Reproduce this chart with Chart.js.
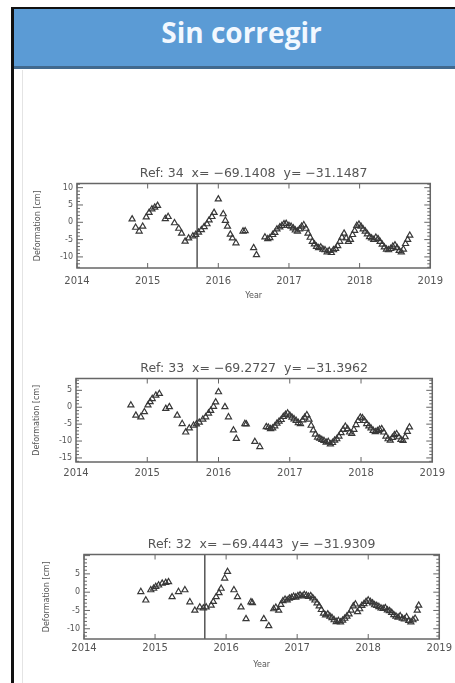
<!DOCTYPE html>
<html>
<head>
<meta charset="utf-8">
<script src="https://cdn.jsdelivr.net/npm/chart.js@4.4.1/dist/chart.umd.min.js"></script>
<style>
  body { margin: 0; background: #fff; width: 455px; height: 683px; overflow: hidden; position: relative; font-family: "DejaVu Sans", sans-serif; }
  #frame { position: absolute; left: 11px; top: 7px; width: 470px; height: 700px; border-left: 3px solid #111; border-top: 2px solid #111; }
  #header { position: absolute; left: 14px; top: 9px; width: 441px; height: 57px; background: #5b9bd5; border-bottom: 3px solid #41698e;
            color: #f2f8ff; font: bold 28px "Open Sans", sans-serif; text-align: center; line-height: 46px; text-indent: 14px; }
  #inner { position: absolute; left: 22px; top: 70px; width: 1px; height: 613px; background: #e4e4e4; }
  canvas { position: absolute; }
</style>
</head>
<body>
<div id="frame"></div>
<div id="header">Sin corregir</div>
<div id="inner"></div>
<canvas id="c1"></canvas>
<canvas id="c2"></canvas>
<canvas id="c3"></canvas>
<script>
// ticks
var yearTicks = [2014, 2015, 2016, 2017, 2018, 2019];
var eventYear = 2015.7;

// Ref 34
var title34 = 'Ref: 34  x= −69.1408  y= −31.1487';
var yTicks34 = [-10, -5, 0, 5, 10];
var yRange34 = [-13.2, 11.2];
var points34 = [
  [2014.78, 0.9], [2014.83, -1.5], [2014.88, -2.6], [2014.93, -1.2], [2014.98, 1.5], [2015.02, 2.8],
  [2015.06, 3.8], [2015.10, 4.3], [2015.14, 4.8], [2015.25, 1.0], [2015.29, 1.6], [2015.38, -0.2],
  [2015.44, -1.8], [2015.48, -3.2], [2015.53, -5.5], [2015.58, -4.6],
  [2015.64, -4.0], [2015.68, -3.6], [2015.72, -2.9], [2015.76, -2.2], [2015.80, -1.3], [2015.84, -0.5],
  [2015.87, 0.6], [2015.91, 1.6], [2015.94, 2.8], [2016.00, 6.7],
  [2016.07, 2.4], [2016.10, 0.5], [2016.13, -1.2], [2016.17, -3.5], [2016.20, -4.6], [2016.25, -6.0],
  [2016.35, -2.6], [2016.38, -2.5], [2016.50, -7.4], [2016.54, -9.4],
  [2016.66, -4.3], [2016.70, -4.8], [2016.73, -4.5], [2016.77, -3.6], [2016.80, -3.0], [2016.83, -2.0],
  [2016.87, -1.4], [2016.90, -1.0], [2016.93, -0.5], [2016.96, -0.4], [2017.00, -1.0], [2017.03, -1.2],
  [2017.06, -1.7], [2017.09, -2.3], [2017.12, -2.6], [2017.15, -2.0], [2017.18, -1.2], [2017.21, -0.8],
  [2017.24, -1.8], [2017.27, -3.2], [2017.30, -4.4], [2017.33, -5.6], [2017.36, -6.3], [2017.39, -7.0],
  [2017.42, -7.4], [2017.45, -7.2], [2017.48, -7.8], [2017.51, -8.0], [2017.54, -8.6], [2017.57, -8.2],
  [2017.60, -8.8], [2017.63, -8.0], [2017.66, -7.6], [2017.69, -6.8], [2017.72, -5.6], [2017.75, -4.4],
  [2017.78, -3.2], [2017.81, -4.6], [2017.84, -5.6], [2017.87, -5.0], [2017.90, -3.6], [2017.93, -2.4],
  [2017.96, -1.0], [2017.99, -0.6], [2018.02, -1.2], [2018.05, -2.0], [2018.08, -2.6], [2018.11, -3.4],
  [2018.14, -4.2], [2018.17, -4.6], [2018.20, -5.0], [2018.23, -4.4], [2018.26, -4.8], [2018.29, -5.6],
  [2018.32, -6.4], [2018.35, -7.2], [2018.38, -7.8], [2018.41, -8.0], [2018.44, -7.6], [2018.47, -7.0],
  [2018.50, -6.6], [2018.53, -7.4], [2018.56, -8.2], [2018.59, -8.6], [2018.62, -7.8], [2018.65, -6.2],
  [2018.68, -5.0], [2018.71, -3.8]
];

// Ref 33
var title33 = 'Ref: 33  x= −69.2727  y= −31.3962';
var yTicks33 = [-15, -10, -5, 0, 5];
var yRange33 = [-16.2, 8.5];
var points33 = [
  [2014.77, 0.6], [2014.84, -2.4], [2014.91, -2.9], [2014.96, -1.4], [2015.01, 0.6], [2015.04, 1.6],
  [2015.07, 2.5], [2015.12, 3.5], [2015.17, 4.0], [2015.26, -0.4], [2015.31, 0.1], [2015.42, -2.4],
  [2015.49, -4.9], [2015.54, -7.4], [2015.59, -6.2], [2015.65, -5.4], [2015.69, -5.0], [2015.73, -4.5],
  [2015.78, -3.6], [2015.82, -2.9], [2015.86, -1.8], [2015.89, -1.0], [2015.93, 0.2], [2015.96, 1.5],
  [2016.00, 4.5], [2016.09, 0.1], [2016.14, -2.9], [2016.21, -6.8], [2016.25, -9.3], [2016.37, -4.9],
  [2016.39, -5.0], [2016.51, -10.2], [2016.58, -11.7],
  [2016.67, -5.8], [2016.70, -6.0], [2016.73, -6.4], [2016.76, -6.2], [2016.79, -5.6], [2016.82, -4.8],
  [2016.85, -4.2], [2016.88, -3.7], [2016.91, -2.8], [2016.94, -2.2], [2016.97, -1.8], [2017.00, -2.4],
  [2017.03, -3.0], [2017.06, -3.5], [2017.09, -4.0], [2017.12, -4.6], [2017.15, -4.9], [2017.18, -3.8],
  [2017.21, -3.0], [2017.24, -2.3], [2017.27, -3.6], [2017.30, -5.4], [2017.33, -6.8], [2017.36, -8.0],
  [2017.39, -8.9], [2017.42, -9.2], [2017.45, -9.6], [2017.48, -9.9], [2017.51, -10.4], [2017.54, -10.2],
  [2017.57, -10.9], [2017.60, -10.5], [2017.63, -9.8], [2017.66, -9.4], [2017.69, -8.6], [2017.72, -7.6],
  [2017.75, -6.6], [2017.78, -5.7], [2017.81, -6.4], [2017.84, -7.4], [2017.87, -7.8], [2017.90, -6.6],
  [2017.93, -5.2], [2017.96, -4.0], [2017.99, -3.0], [2018.02, -3.2], [2018.05, -4.0], [2018.08, -4.9],
  [2018.11, -5.6], [2018.14, -6.2], [2018.17, -6.9], [2018.20, -7.3], [2018.23, -7.0], [2018.26, -6.6],
  [2018.29, -6.4], [2018.32, -7.4], [2018.35, -8.6], [2018.38, -9.4], [2018.41, -9.8], [2018.44, -9.0],
  [2018.47, -8.2], [2018.50, -7.9], [2018.53, -8.8], [2018.56, -9.6], [2018.59, -9.9], [2018.62, -8.8],
  [2018.65, -7.2], [2018.68, -5.9]
];

// Ref 32
var title32 = 'Ref: 32  x= −69.4443  y= −31.9309';
var yTicks32 = [-10, -5, 0, 5];
var yRange32 = [-12.8, 10.3];
var points32 = [
  [2014.80, 0.1], [2014.87, -2.2], [2014.94, 0.6], [2014.98, 1.0], [2015.01, 1.5], [2015.05, 1.9],
  [2015.10, 2.4], [2015.15, 2.6], [2015.19, 2.8], [2015.24, -1.3], [2015.33, 0.1], [2015.42, 0.6],
  [2015.49, -2.7], [2015.56, -5.0], [2015.63, -4.1], [2015.68, -4.4], [2015.72, -4.1], [2015.79, -3.6],
  [2015.82, -2.6], [2015.86, -1.3], [2015.90, -0.2], [2015.93, 1.0], [2015.98, 3.8], [2016.02, 5.6],
  [2016.11, 0.6], [2016.16, -1.3], [2016.21, -4.1], [2016.28, -7.3], [2016.35, -2.7], [2016.37, -2.9],
  [2016.53, -7.3], [2016.60, -9.2],
  [2016.67, -4.6], [2016.70, -4.2], [2016.74, -5.0], [2016.77, -3.4], [2016.80, -2.4], [2016.83, -2.0],
  [2016.86, -2.2], [2016.89, -1.7], [2016.92, -1.5], [2016.95, -1.2], [2016.98, -1.4], [2017.01, -1.0],
  [2017.04, -0.8], [2017.07, -1.1], [2017.10, -0.7], [2017.13, -0.9], [2017.16, -1.2], [2017.19, -1.0],
  [2017.22, -1.6], [2017.25, -2.2], [2017.28, -3.0], [2017.31, -3.8], [2017.34, -4.8], [2017.37, -5.8],
  [2017.40, -6.3], [2017.43, -6.0], [2017.46, -6.6], [2017.49, -7.0], [2017.52, -7.6], [2017.55, -8.1],
  [2017.58, -7.8], [2017.61, -8.2], [2017.64, -7.7], [2017.67, -7.2], [2017.70, -6.6], [2017.73, -6.0],
  [2017.76, -5.0], [2017.79, -3.8], [2017.82, -3.3], [2017.85, -5.4], [2017.88, -4.6], [2017.91, -3.7],
  [2017.94, -3.2], [2017.97, -2.6], [2018.00, -2.2], [2018.03, -2.6], [2018.06, -3.0], [2018.09, -3.5],
  [2018.12, -3.7], [2018.15, -4.0], [2018.18, -4.4], [2018.21, -4.5], [2018.24, -4.3], [2018.27, -4.9],
  [2018.30, -5.1], [2018.33, -5.6], [2018.36, -6.2], [2018.39, -6.6], [2018.42, -6.9], [2018.45, -6.5],
  [2018.48, -7.2], [2018.51, -7.4], [2018.54, -6.8], [2018.57, -7.8], [2018.60, -8.2], [2018.63, -7.6],
  [2018.66, -7.2], [2018.69, -5.0], [2018.71, -3.6]
];

var ink = '#555';

// caja del gráfico con marcas hacia dentro (estilo IDL)
var framePlugin = {
  id: 'frame',
  afterDraw: function (chart) {
    var ctx = chart.ctx, a = chart.chartArea, x = chart.scales.x, y = chart.scales.y;
    ctx.save();
    ctx.strokeStyle = '#666';
    ctx.lineWidth = 1.5;
    ctx.strokeRect(a.left, a.top, a.right - a.left, a.bottom - a.top);
    ctx.lineWidth = 1;
    ctx.beginPath();
    x.ticks.forEach(function (t) {
      var px = x.getPixelForValue(t.value);
      ctx.moveTo(px, a.bottom); ctx.lineTo(px, a.bottom - 5);
      ctx.moveTo(px, a.top); ctx.lineTo(px, a.top + 5);
    });
    for (var v = Math.ceil(y.min); v <= y.max; v++) {
      var py = y.getPixelForValue(v);
      var len = v % 5 === 0 ? 6 : 3;
      ctx.moveTo(a.left, py); ctx.lineTo(a.left + len, py);
      ctx.moveTo(a.right, py); ctx.lineTo(a.right - len, py);
    }
    ctx.stroke();
    ctx.restore();
  }
};

function makeChart(id, box, pts, title, yTicks, yRange, m) {
  var cv = document.getElementById(id);
  cv.style.left = box[0] + 'px';
  cv.style.top = box[1] + 'px';
  cv.width = box[2];
  cv.height = box[3];
  return new Chart(cv, {
    type: 'scatter',
    data: {
      datasets: [{
        data: pts.map(function (p) { return { x: p[0], y: p[1] }; }),
        pointStyle: 'triangle',
        pointRadius: 3.5,
        borderColor: '#383838',
        backgroundColor: 'rgba(0,0,0,0)',
        borderWidth: 1.2
      }, {
        data: [{ x: eventYear, y: yRange[0] }, { x: eventYear, y: yRange[1] }],
        showLine: true,
        pointRadius: 0,
        borderColor: ink,
        borderWidth: 1.5
      }]
    },
    options: {
      responsive: false,
      animation: false,
      layout: { padding: { left: m.padL, right: m.padR, top: 0, bottom: 0 } },
      plugins: {
        legend: { display: false },
        tooltip: { enabled: false },
        title: {
          display: !!title,
          text: title,
          fullSize: false,
          color: ink,
          font: { family: 'DejaVu Sans', size: 12.5, weight: 'normal' },
          padding: { top: 1.5, bottom: 2 }
        }
      },
      scales: {
        x: {
          type: 'linear',
          min: yearTicks[0],
          max: yearTicks[yearTicks.length - 1],
          afterBuildTicks: function (s) { s.ticks = yearTicks.map(function (v) { return { value: v }; }); },
          afterFit: function (s) { s.height = m.xH; },
          grid: { display: false, drawTicks: false },
          border: { display: false },
          ticks: {
            color: ink, padding: m.xPad, maxRotation: 0,
            font: { family: 'DejaVu Sans', size: 10 },
            callback: function (v) { return String(v); }
          },
          title: {
            display: m.yearLabel,
            text: 'Year',
            color: ink,
            font: { family: 'DejaVu Sans', size: 8 },
            padding: { top: 0, bottom: m.yearPad }
          }
        },
        y: {
          min: yRange[0],
          max: yRange[1],
          afterBuildTicks: function (s) { s.ticks = yTicks.map(function (v) { return { value: v }; }); },
          afterFit: function (s) { s.width = m.yW; },
          grid: { display: false, drawTicks: false },
          border: { display: false },
          ticks: {
            color: ink, padding: 4,
            font: { family: 'DejaVu Sans', size: 8 },
            callback: function (v) { return String(v); }
          },
          title: {
            display: true,
            text: 'Deformation [cm]',
            color: ink,
            font: { family: 'DejaVu Sans', size: 8 },
            padding: { top: 0, bottom: 0 }
          }
        }
      }
    },
    plugins: [framePlugin]
  });
}

makeChart('c1', [20, 165, 430, 140], points34, title34, yTicks34, yRange34,
  { padL: 13, padR: 14, yW: 44, xH: 37, xPad: 7, yearLabel: true, yearPad: 4 });
makeChart('c2', [20, 360, 430, 120], points33, title33, yTicks33, yRange33,
  { padL: 12, padR: 15, yW: 44, xH: 18, xPad: 5, yearLabel: false, yearPad: 0 });
makeChart('c3', [25, 536, 430, 135], points32, title32, yTicks32, yRange32,
  { padL: 17, padR: 10, yW: 42, xH: 32, xPad: 3, yearLabel: true, yearPad: 1 });
</script>
</body>
</html>
